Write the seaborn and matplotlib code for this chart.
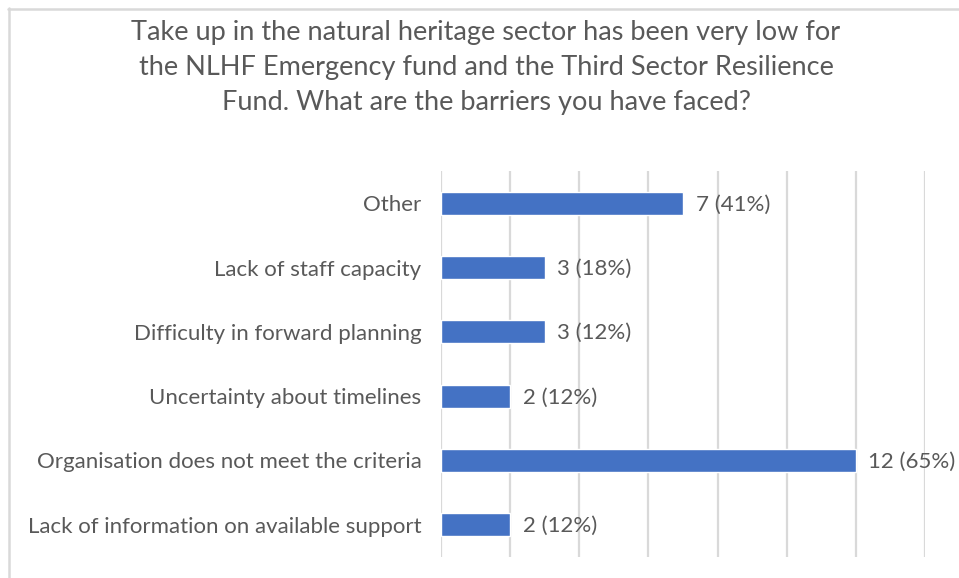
import matplotlib
matplotlib.use("Agg")
import matplotlib.pyplot as plt
from matplotlib.lines import Line2D
import seaborn as sns
import pandas as pd

# Survey responses: barrier, number of respondents, share of respondents
barriers = [
    "Other",
    "Lack of staff capacity",
    "Difficulty in forward planning",
    "Uncertainty about timelines",
    "Organisation does not meet the criteria",
    "Lack of information on available support",
]
counts = [7, 3, 3, 2, 12, 2]
percents = [41, 18, 12, 12, 65, 12]

title = ("Take up in the natural heritage sector has been very low for\n"
         "the NLHF Emergency fund and the Third Sector Resilience\n"
         "Fund. What are the barriers you have faced?")

df = pd.DataFrame({"barrier": barriers, "count": counts, "pct": percents})

sns.set_theme(style="white")
plt.rcParams["font.family"] = ["Lato", "DejaVu Sans"]

W, H = 959, 578
fig = plt.figure(figsize=(W / 100, H / 100), dpi=100)
ax = fig.add_axes([441 / W, 1 - 557 / H, (925 - 441) / W, (557 - 171) / H])

text_col = "#595959"
grid_col = "#d9d9d9"

sns.barplot(data=df, x="count", y="barrier", orient="h", color="#4472C4",
            width=0.36, saturation=1, ax=ax, zorder=3)

ax.set_xlim(0, 14)
ax.set_xticks(range(0, 15, 2))
ax.xaxis.grid(True, color=grid_col, linewidth=1.6, zorder=0)
ax.yaxis.grid(False)
for s in ax.spines.values():
    s.set_visible(False)
ax.tick_params(axis="x", length=0, labelbottom=False)
ax.tick_params(axis="y", length=0, pad=14, labelsize=16, labelcolor=text_col)
ax.set_xlabel("")
ax.set_ylabel("")

for i, (c, p) in enumerate(zip(counts, percents)):
    ax.annotate(f"{c} ({p}%)", xy=(c, i), xytext=(9, -1), textcoords="offset points",
                ha="left", va="center", fontsize=16, color=text_col,
                annotation_clip=False)

fig.text(486 / W, 1 - 20 / H, title, ha="center", va="top", fontsize=19.5,
         color=text_col, linespacing=1.5)

# chart frame
fig.add_artist(Line2D([8.5 / W, 8.5 / W], [0, 1 - 8 / H], transform=fig.transFigure,
                      color=grid_col, linewidth=1.8))
fig.add_artist(Line2D([8 / W, 1], [1 - 8.5 / H, 1 - 8.5 / H], transform=fig.transFigure,
                      color=grid_col, linewidth=1.8))

fig.savefig("out.png", dpi=100, facecolor="white")
